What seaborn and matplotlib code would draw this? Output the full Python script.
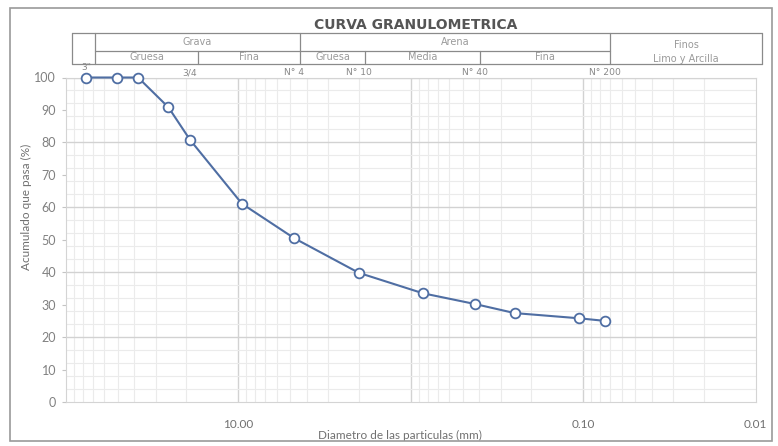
import matplotlib
matplotlib.use("Agg")
import matplotlib.pyplot as plt
from matplotlib.patches import Rectangle
from matplotlib.ticker import FixedLocator, NullFormatter
import numpy as np
import pandas as pd
import seaborn as sns

# ---- data: sieve openings (mm) and cumulative percent passing ----
tamices = ['3"', '2"', '1 1/2"', '1"', '3/4"', '3/8"', 'N° 4', 'N° 10',
           'N° 20', 'N° 40', 'N° 60', 'N° 140', 'N° 200']
abertura_mm = [76.2, 50.8, 38.1, 25.4, 19.05, 9.525, 4.75, 2.0,
               0.85, 0.425, 0.25, 0.106, 0.075]
pasa_pct = [100.0, 100.0, 100.0, 90.8, 80.8, 61.1, 50.5, 39.8,
            33.5, 30.2, 27.4, 25.8, 25.0]

# sieve labels printed above the plot
rotulos = ['3"', '3/4', 'N° 4', 'N° 10', 'N° 40', 'N° 200']
rotulos_mm = [76.2, 19.05, 4.75, 2.0, 0.425, 0.075]

# x-axis tick labels
xticks = [100, 10, 1, 0.1, 0.01]
xticklabels = ['', '10.00', '', '0.10', '0.01']

df = pd.DataFrame({"abertura": abertura_mm, "pasa": pasa_pct})

sns.set_theme(style="white")
plt.rcParams['font.family'] = ['Lato', 'DejaVu Sans']

W, H = 778, 446
fig = plt.figure(figsize=(W / 100, H / 100), dpi=100)
fig.patch.set_facecolor('white')

# plot area in pixels
L, T, PW, PH = 65.8, 77.5, 690.0, 324.5
ax = fig.add_axes([L / W, 1 - (T + PH) / H, PW / W, PH / H])
ax.set_facecolor('white')


def ax_x(px):
    return (px - L) / PW


def ax_y(py):
    return (T + PH - py) / PH


ax.set_xscale('log')
ax.set_xlim(100, 0.01)
ax.set_ylim(0, 100)

# grid: light minor lines, slightly darker major lines
minor_x = [m * 10.0 ** e for e in range(-2, 2) for m in range(2, 10)]
for v in minor_x:
    ax.axvline(v, color='#ebebeb', lw=0.8, zorder=0)
for v in [10, 1, 0.1]:
    ax.axvline(v, color='#d2d2d2', lw=1.0, zorder=0)
for v in range(0, 101, 4):
    if v % 20:
        ax.axhline(v, color='#ebebeb', lw=0.8, zorder=0)
for v in range(20, 101, 20):
    ax.axhline(v, color='#d2d2d2', lw=1.0, zorder=0)

color = '#4f6ea3'
sns.lineplot(data=df, x="abertura", y="pasa", ax=ax, color=color,
             linewidth=1.5, marker='o', markersize=7,
             markerfacecolor='white', markeredgecolor=color,
             markeredgewidth=1.3, sort=False, zorder=3)
for ln in ax.lines:
    if ln.get_marker() == 'o':
        ln.set_clip_on(False)

ax.xaxis.set_major_locator(FixedLocator(xticks))
ax.set_xticklabels(xticklabels)
ax.xaxis.set_minor_formatter(NullFormatter())
ax.tick_params(axis='x', which='both', length=0, pad=12,
               labelsize=8.5, labelcolor='#707070')
ax.set_yticks(range(0, 101, 10))
ax.tick_params(axis='y', length=3, width=0.8, color='#c4c4c4', pad=4,
               labelsize=9, labelcolor='#808080', left=True)

for s in ax.spines.values():
    s.set_color('#d4d4d4')
    s.set_linewidth(0.8)

ax.set_xlabel('Diametro de las particulas (mm)', fontsize=8.5, color='#707070')
ax.xaxis.set_label_coords(ax_x(400), ax_y(430))
ax.set_ylabel('Acumulado que pasa (%)', fontsize=8.5, color='#707070')
ax.yaxis.set_label_coords(ax_x(32), ax_y(207))

# title
fig.text(416 / W, 1 - 25 / H, 'CURVA GRANULOMETRICA', ha='center', va='center',
         fontsize=10, fontweight='bold', color='#555555', family='DejaVu Sans')

# header table with soil classes
tc = '#8a8a8a'
y_top, y_mid, y_bot = 32.7, 50.7, 63.5


def hline(x0, x1, y):
    ax.plot([ax_x(x0), ax_x(x1)], [ax_y(y), ax_y(y)], transform=ax.transAxes,
            color=tc, lw=0.9, clip_on=False)


def vline(x, y0, y1):
    ax.plot([ax_x(x), ax_x(x)], [ax_y(y0), ax_y(y1)], transform=ax.transAxes,
            color=tc, lw=0.9, clip_on=False)


hline(72, 762, y_top)
hline(72, 762, y_bot)
hline(95, 610, y_mid)
for x in [72, 95, 300, 610, 762]:
    vline(x, y_top, y_bot)
for x in [198, 365, 480]:
    vline(x, y_mid, y_bot)

tkw = dict(transform=ax.transAxes, ha='center', va='center', fontsize=7,
           color='#9a9a9a', family='DejaVu Sans', clip_on=False)
ax.text(ax_x(197), ax_y(42.5), 'Grava', **tkw)
ax.text(ax_x(455), ax_y(42.5), 'Arena', **tkw)
for xc, t in [(146.5, 'Gruesa'), (249, 'Fina'), (332.5, 'Gruesa'),
              (422.5, 'Media'), (545, 'Fina')]:
    ax.text(ax_x(xc), ax_y(57.3), t, **tkw)
ax.text(ax_x(686), ax_y(44.5), 'Finos', **tkw)
ax.text(ax_x(686), ax_y(59), 'Limo y Arcilla', **tkw)

# sieve names along the top edge
for d, t in zip(rotulos_mm, rotulos):
    yy = ax_y(68) if t == '3"' else ax_y(72.5)
    ax.text(d, yy, t, transform=ax.get_xaxis_transform(), ha='center',
            va='center', fontsize=6.6, color='#888888', family='DejaVu Sans',
            clip_on=False)

# outer frame of the chart
fig.patches.append(Rectangle((10 / W, 1 - 441 / H), 762 / W, 433 / H,
                             transform=fig.transFigure, fill=False,
                             edgecolor='#9a9a9a', lw=1.2))

fig.savefig('out.png', dpi=100)
